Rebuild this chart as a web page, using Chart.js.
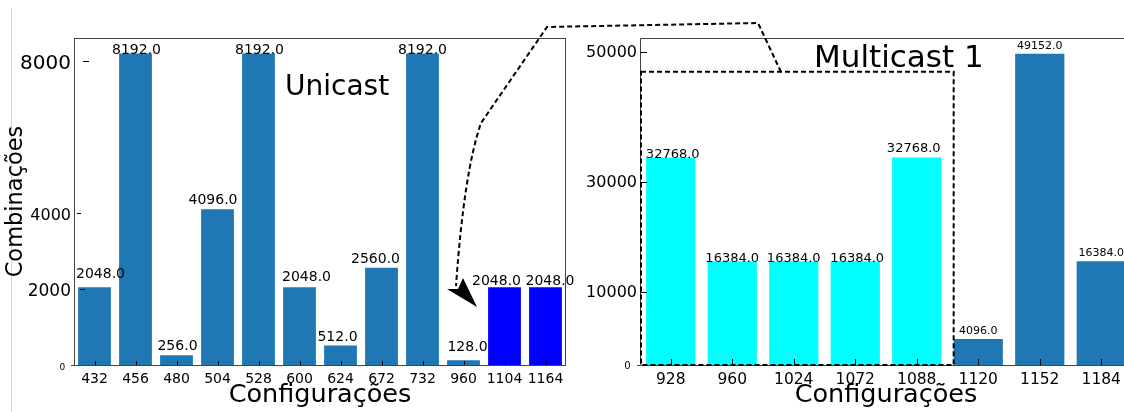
<!DOCTYPE html>
<html lang="pt">
<head>
    <meta charset="UTF-8">
    <title>Combinações por configuração: Unicast e Multicast 1</title>
    <script src="https://cdn.jsdelivr.net/npm/chart.js"></script>
    <style>
        body {
            margin: 0;
            width: 1124px;
            height: 412px;
            overflow: hidden;
            position: relative;
            background: #fff;
        }
        #edge {
            position: absolute;
            left: 11px;
            top: 8px;
            width: 1px;
            height: 404px;
            background: #d4d4d4;
        }
        #unicastChart {
            position: absolute;
            left: 0;
            top: 0;
        }
        #multicastChart {
            position: absolute;
            left: 580px;
            top: 0;
        }
        #overlay {
            position: absolute;
            left: 0;
            top: 0;
            pointer-events: none;
        }
    </style>
</head>
<body>
    <div id="edge"></div>
    <canvas id="unicastChart" width="580" height="412"></canvas>
    <canvas id="multicastChart" width="552" height="412"></canvas>

    <!-- zoom connector from the multicast inset to the unicast bars -->
    <svg id="overlay" width="1124" height="412">
        <path d="M781 72 L758 23 L547 27 L481 123 Q464 172 456 286"
              fill="none" stroke="#000" stroke-width="2" stroke-dasharray="5,3"/>
        <polygon points="447,289 477,307 463,278 458,289" fill="#000"/>
    </svg>

    <script>
        const FONT = "'DejaVu Sans', sans-serif";

        // Unicast panel
        const unicastConfigs = ['432', '456', '480', '504', '528', '600', '624', '672', '732', '960', '1104', '1164'];
        const unicastCombos = [2048, 8192, 256, 4096, 8192, 2048, 512, 2560, 8192, 128, 2048, 2048];
        const unicastTicks = [0, 2000, 4000, 8000];

        // Multicast 1 panel
        const multicastConfigs = ['928', '960', '1024', '1072', '1088', '1120', '1152', '1184'];
        const multicastCombos = [32768, 16384, 16384, 16384, 32768, 4096, 49152, 16384];
        const multicastTickValues = [0, 11500, 28900, 49400];
        const multicastTickLabels = ['0', '10000', '30000', '50000'];

        // look
        const unicastColors = unicastConfigs.map((c, i) => i >= 10 ? '#0000ff' : '#1f77b4');
        const multicastColors = multicastConfigs.map((c, i) => i <= 4 ? '#00ffff' : '#1f77b4');
        const unicastYFont = [9, 17, 16, 20];
        const multicastYFont = [10, 16, 16, 16];
        // value label nudges (px), as placed in the original figure
        const unicastLabelLift = [9, 0, 5, 5, 0, 6, 5, 5, 0, 9, 2, 2];
        const unicastLabelShift = [6, 1, 1, -4.5, 1, 7, -3, -6, 0, 4, -8, 4.5];
        const multicastLabelLift = [0, -1, -1, -1, 6, 5, 5, 5];
        const multicastLabelShift = [2, 0, 0, 2, -3, 0, 0, 0];
        const unicastYMarks = { 2000: [6, 11], 4000: [3, 7], 8000: [9, 15] };

        function drawValueLabels(chart, lifts, shifts, sizeFor) {
            const ctx = chart.ctx;
            const values = chart.data.datasets[0].data;
            ctx.save();
            ctx.fillStyle = '#000';
            ctx.textAlign = 'center';
            ctx.textBaseline = 'alphabetic';
            chart.getDatasetMeta(0).data.forEach((bar, i) => {
                ctx.font = sizeFor(i) + 'px ' + FONT;
                ctx.fillText(values[i].toFixed(1), bar.x + shifts[i], bar.y - lifts[i]);
            });
            ctx.restore();
        }

        function drawXMarks(chart, len) {
            const {ctx, chartArea: a, scales: {x}} = chart;
            ctx.beginPath();
            x.ticks.forEach((t, i) => {
                const px = Math.round(x.getPixelForTick(i)) + 0.5;
                ctx.moveTo(px, a.bottom);
                ctx.lineTo(px, a.bottom - len);
            });
            ctx.stroke();
        }

        const unicastDecor = {
            id: 'unicastDecor',
            afterDatasetsDraw(chart) {
                const {ctx, chartArea: a, scales: {y}} = chart;
                ctx.save();
                ctx.strokeStyle = '#444';
                ctx.lineWidth = 1;
                ctx.strokeRect(Math.round(a.left) + 0.5, Math.round(a.top) + 0.5,
                               Math.round(a.right - a.left) - 1, Math.round(a.bottom - a.top));
                ctx.beginPath();
                ctx.moveTo(a.left - 3, Math.round(a.bottom) + 0.5);
                ctx.lineTo(a.left, Math.round(a.bottom) + 0.5);
                ctx.stroke();
                ctx.strokeStyle = '#000';
                drawXMarks(chart, 4);
                ctx.beginPath();
                unicastTicks.forEach(v => {
                    const m = unicastYMarks[v];
                    if (!m) return;
                    const py = Math.round(y.getPixelForValue(v)) + 0.5;
                    ctx.moveTo(a.left + m[0], py);
                    ctx.lineTo(a.left + m[1], py);
                });
                ctx.stroke();
                ctx.restore();

                drawValueLabels(chart, unicastLabelLift, unicastLabelShift, () => 14);

                ctx.save();
                ctx.fillStyle = '#000';
                ctx.font = '28px ' + FONT;
                ctx.textAlign = 'left';
                ctx.fillText('Unicast', 285, 95);
                ctx.restore();
            }
        };

        const multicastDecor = {
            id: 'multicastDecor',
            afterDatasetsDraw(chart) {
                const {ctx, chartArea: a, scales: {x, y}} = chart;
                ctx.save();
                ctx.strokeStyle = '#444';
                ctx.lineWidth = 1;
                ctx.beginPath();
                ctx.moveTo(a.right + 5, Math.round(a.top) + 0.5);
                ctx.lineTo(Math.round(a.left) + 0.5, Math.round(a.top) + 0.5);
                ctx.lineTo(Math.round(a.left) + 0.5, Math.round(a.bottom) + 0.5);
                ctx.lineTo(a.right + 5, Math.round(a.bottom) + 0.5);
                ctx.moveTo(a.left - 3, Math.round(a.bottom) + 0.5);
                ctx.lineTo(a.left, Math.round(a.bottom) + 0.5);
                ctx.stroke();
                ctx.strokeStyle = '#000';
                drawXMarks(chart, 6);
                ctx.beginPath();
                multicastTickValues.forEach(v => {
                    if (v === 0) return;
                    const py = Math.round(y.getPixelForValue(v)) + 0.5;
                    ctx.moveTo(a.left, py);
                    ctx.lineTo(a.left + 7, py);
                });
                ctx.stroke();

                // dashed inset around the cyan bars
                const step = x.getPixelForValue(5) - x.getPixelForValue(4);
                const x0 = a.left + 1;
                const x1 = x.getPixelForValue(4) + 0.6 * step;
                const y0 = y.getPixelForValue(46300);
                ctx.setLineDash([5, 3]);
                ctx.lineWidth = 2;
                ctx.strokeRect(x0, y0, x1 - x0, a.bottom - y0);
                ctx.restore();

                drawValueLabels(chart, multicastLabelLift, multicastLabelShift, i => i <= 4 ? 13 : 11);

                ctx.save();
                ctx.fillStyle = '#000';
                ctx.font = '31px ' + FONT;
                ctx.textAlign = 'left';
                ctx.fillText('Multicast 1', 234, 67);
                ctx.restore();
            }
        };

        new Chart(document.getElementById('unicastChart'), {
            type: 'bar',
            data: {
                labels: unicastConfigs,
                datasets: [{
                    data: unicastCombos,
                    backgroundColor: unicastColors,
                    borderWidth: 0,
                    barPercentage: 0.8,
                    categoryPercentage: 1.0
                }]
            },
            options: {
                responsive: false,
                animation: false,
                layout: { padding: { top: 38, right: 14, left: 0, bottom: 0 } },
                plugins: {
                    legend: { display: false },
                    tooltip: { enabled: false }
                },
                scales: {
                    x: {
                        grid: { display: false, drawTicks: false },
                        border: { display: false },
                        ticks: {
                            color: '#000',
                            font: { family: FONT, size: 14 },
                            padding: 6,
                            maxRotation: 0,
                            autoSkip: false
                        },
                        title: {
                            display: true,
                            text: 'Configurações',
                            color: '#000',
                            font: { family: FONT, size: 25.5 },
                            padding: { top: 0, bottom: 1 }
                        },
                        afterFit: s => { s.height = 47; }
                    },
                    y: {
                        min: 0,
                        max: 8600,
                        grid: { display: false, drawTicks: false },
                        border: { display: false },
                        afterBuildTicks: s => { s.ticks = unicastTicks.map(v => ({ value: v })); },
                        ticks: {
                            color: '#000',
                            padding: 3,
                            labelOffset: 2.5,
                            font: c => ({ family: FONT, size: unicastYFont[c.index] }),
                            callback: v => v === 0 ? '0  ' : String(v)
                        },
                        title: {
                            display: true,
                            text: 'Combinações',
                            color: '#000',
                            font: { family: FONT, size: 22.5 },
                            padding: { top: 3, bottom: 0 }
                        },
                        afterFit: s => { s.width = 74; }
                    }
                }
            },
            plugins: [unicastDecor]
        });

        new Chart(document.getElementById('multicastChart'), {
            type: 'bar',
            data: {
                labels: multicastConfigs,
                datasets: [{
                    data: multicastCombos,
                    backgroundColor: multicastColors,
                    borderWidth: 0,
                    barPercentage: 0.8,
                    categoryPercentage: 1.0
                }]
            },
            options: {
                responsive: false,
                animation: false,
                layout: { padding: { top: 38, right: 0, left: 0, bottom: 0 } },
                plugins: {
                    legend: { display: false },
                    tooltip: { enabled: false }
                },
                scales: {
                    x: {
                        grid: { display: false, drawTicks: false },
                        border: { display: false },
                        ticks: {
                            color: '#000',
                            font: { family: FONT, size: 15.5 },
                            padding: 6,
                            maxRotation: 0,
                            autoSkip: false
                        },
                        title: {
                            display: true,
                            text: 'Configurações',
                            color: '#000',
                            font: { family: FONT, size: 25.5 },
                            padding: { top: 0, bottom: 1 }
                        },
                        afterFit: s => { s.height = 47; }
                    },
                    y: {
                        min: 0,
                        max: 51650,
                        grid: { display: false, drawTicks: false },
                        border: { display: false },
                        afterBuildTicks: s => { s.ticks = multicastTickValues.map(v => ({ value: v })); },
                        ticks: {
                            color: '#000',
                            padding: 3,
                            labelOffset: 1,
                            font: c => ({ family: FONT, size: multicastYFont[c.index] }),
                            callback: (v, i) => i === 0 ? '0  ' : multicastTickLabels[i]
                        },
                        afterFit: s => { s.width = 60; }
                    }
                }
            },
            plugins: [multicastDecor]
        });
    </script>
</body>
</html>
